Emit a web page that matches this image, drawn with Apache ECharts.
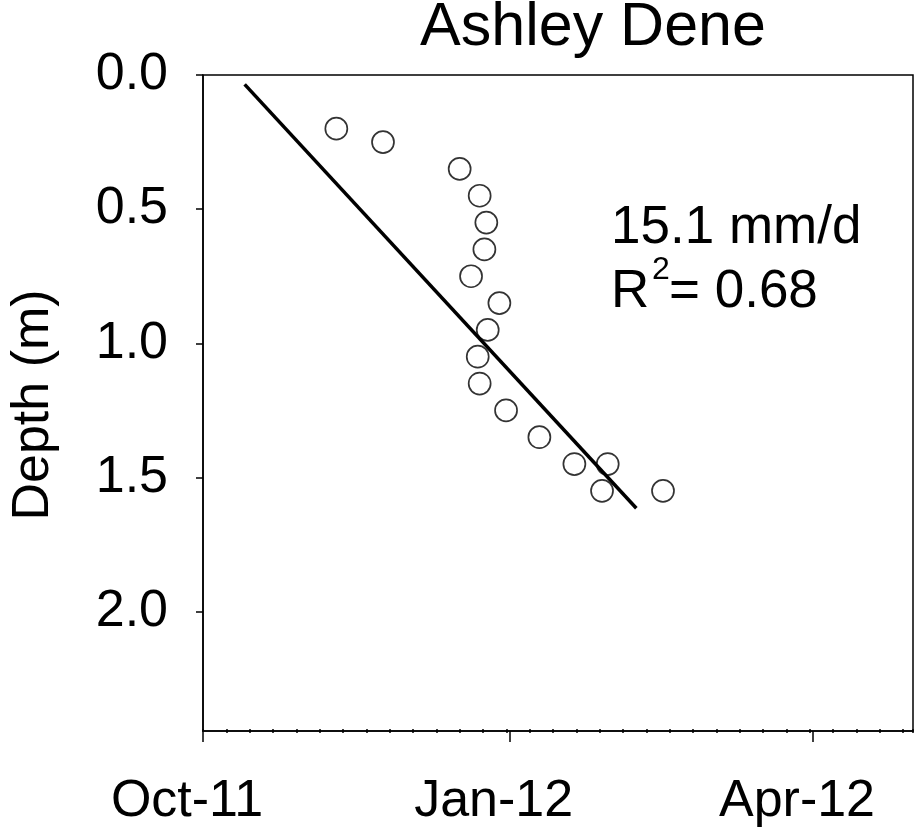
<!DOCTYPE html>
<html><head><meta charset="utf-8">
<script src="https://cdn.jsdelivr.net/npm/echarts@6/dist/echarts.min.js"></script>
<style>html,body{margin:0;padding:0;background:#fff}#c{width:914px;height:829px}</style>
</head><body><div id="c"></div>
<script>
// ---- data ----
const sampleDates = ['2011-11-10','2011-11-24','2011-12-17','2011-12-23','2011-12-25','2011-12-24 10:00','2011-12-20 10:00','2011-12-28 22:00','2011-12-25 10:00','2011-12-22 10:00','2011-12-23','2011-12-30 22:00','2012-01-09 22:00','2012-01-20 10:00','2012-01-30 10:00','2012-01-28 17:00','2012-02-16'];
const sampleDepths = [0.20,0.25,0.35,0.45,0.55,0.65,0.75,0.85,0.95,1.05,1.15,1.25,1.35,1.45,1.45,1.55,1.55];
const fitDates = ['2011-10-13 12:00','2012-02-08'];
const fitDepths = [0.035,1.615];
const xTickDates = ['2011-10-01','2012-01-01','2012-04-01'];
const xTickLabels = ['Oct-11','Jan-12','Apr-12'];
const xRange = ['2011-10-01','2012-05-01'];
const yRange = [0, 2.445];
const yTicks = [0.0,0.5,1.0,1.5,2.0];
const titleText = 'Ashley Dene';
const yName = 'Depth (m)';
const rateText = '15.1 mm/d';
const r2Value = '= 0.68';

function toTime(s){
  const parts = s.split(' ');
  const [Y,M,D] = parts[0].split('-').map(Number);
  let h=0,m=0;
  if(parts[1]){ [h,m] = parts[1].split(':').map(Number); }
  return new Date(Y,M-1,D,h,m).getTime();
}
const DAY = 86400000;
const xMin = toTime(xRange[0]), xMax = toTime(xRange[1]);
const xTickTimes = xTickDates.map(toTime);
const FONT = "'Liberation Sans', Arial, Helvetica, sans-serif";

const chart = echarts.init(document.getElementById('c'), null, {renderer:'canvas'});
chart.setOption({
  animation:false,
  backgroundColor:'#fff',
  grid:{left:203,right:1,top:75,bottom:98,show:true,borderColor:'#000',borderWidth:1.5,backgroundColor:'transparent'},
  xAxis:[{
    type:'value', min:xMin, max:xMax, position:'bottom',
    axisLine:{show:true,onZero:false,lineStyle:{color:'#000',width:1.5}},
    axisTick:{show:true,length:11,lineStyle:{color:'#000',width:1.5},customValues:xTickTimes},
    axisLabel:{show:true,customValues:xTickTimes,margin:45,fontSize:52,fontFamily:FONT,color:'#000',padding:[0,32,0,0],
      formatter:function(v){let i=-1;xTickTimes.forEach((t,k)=>{if(Math.abs(t-v)<DAY)i=k;});return i>=0?xTickLabels[i]:'';}},
    splitLine:{show:false}
  },{
    type:'value', min:0, max:Math.round((xMax-xMin)/DAY), interval:7, position:'bottom', offset:-2,
    axisLine:{show:false,onZero:false}, axisTick:{show:true,length:4,lineStyle:{color:'#000',width:1.5}},
    axisLabel:{show:false}, splitLine:{show:false}
  }],
  yAxis:{
    type:'value', inverse:true, min:yRange[0], max:yRange[1], position:'left',
    axisLine:{show:true,onZero:false,lineStyle:{color:'#000',width:1.5}},
    axisTick:{show:true,length:7,lineStyle:{color:'#000',width:1.5},customValues:yTicks},
    axisLabel:{show:true,customValues:yTicks,margin:35,fontSize:52,fontFamily:FONT,color:'#000',
      formatter:function(v){return v.toFixed(1);}},
    splitLine:{show:false}
  },
  series:[{
    type:'line', xAxisIndex:0, data:fitDates.map((d,i)=>[toTime(d),fitDepths[i]]),
    symbol:'none', lineStyle:{color:'#000',width:3.5}, z:2
  },{
    type:'scatter', xAxisIndex:0, data:sampleDates.map((d,i)=>[toTime(d),sampleDepths[i]]),
    symbol:'circle', symbolSize:22,
    itemStyle:{color:'transparent',borderColor:'#000',borderWidth:1.7}, z:3
  }],
  graphic:[
    {type:'text',x:593,y:28,style:{text:titleText,font:'61px '+FONT,fill:'#000',align:'center',verticalAlign:'middle'}},
    {type:'text',x:34,y:405,rotation:Math.PI/2,style:{text:yName,font:'52px '+FONT,fill:'#000',align:'center',verticalAlign:'middle'}},
    {type:'text',x:611,y:228,style:{text:rateText,font:'53px '+FONT,fill:'#000',align:'left',verticalAlign:'middle'}},
    {type:'text',x:611,y:292,style:{text:'R',font:'53px '+FONT,fill:'#000',align:'left',verticalAlign:'middle'}},
    {type:'text',x:652,y:270,style:{text:'2',font:'32px '+FONT,fill:'#000',align:'left',verticalAlign:'middle'}},
    {type:'text',x:669,y:292,style:{text:r2Value,font:'53px '+FONT,fill:'#000',align:'left',verticalAlign:'middle'}}
  ]
});
</script></body></html>
